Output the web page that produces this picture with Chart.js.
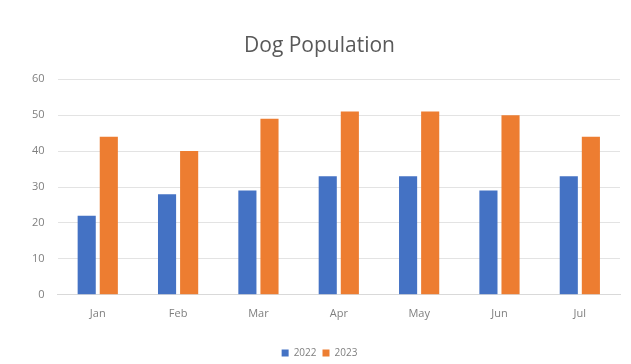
<!DOCTYPE html>
<html>
<head>
<meta charset="utf-8">
<script src="https://cdn.jsdelivr.net/npm/chart.js@4"></script>
<style>
  html, body { margin: 0; padding: 0; background: #fff; }
  #wrap { width: 631px; height: 364px; }
</style>
</head>
<body>
<div id="wrap"><canvas id="Chart" width="631" height="364"></canvas></div>
<script>
// Data
const months = ["Jan", "Feb", "Mar", "Apr", "May", "Jun", "Jul"];
const dogs2022 = [22, 28, 29, 33, 33, 29, 33];
const dogs2023 = [44, 40, 49, 51, 51, 50, 44];

const data = {
  labels: months,
  datasets: [
    {
      label: '2022',
      data: dogs2022,
      backgroundColor: '#4472C4',
      categoryPercentage: 0.55,
      barPercentage: 0.82
    },
    {
      label: '2023',
      data: dogs2023,
      backgroundColor: '#ED7D31',
      categoryPercentage: 0.55,
      barPercentage: 0.82
    }
  ]
};

const config = {
  type: 'bar',
  data: data,
  options: {
    responsive: false,
    animation: false,
    layout: { padding: { left: 19, right: 11, top: 33, bottom: -4 } },
    plugins: {
      title: {
        display: true,
        text: 'Dog Population',
        color: '#595959',
        font: { family: 'Open Sans', size: 21, weight: 'normal' },
        padding: { top: 0, bottom: 21 }
      },
      legend: {
        position: 'bottom',
        labels: {
          color: '#7f7f7f',
          font: { family: 'Open Sans', size: 10 },
          boxWidth: 7,
          boxHeight: 7,
          padding: 6
        }
      },
      tooltip: { enabled: false }
    },
    scales: {
      x: {
        grid: { display: false, drawTicks: false },
        border: { color: '#d9d9d9' },
        ticks: {
          color: '#7f7f7f',
          font: { family: 'Open Sans', size: 11 },
          padding: 12
        },
        afterFit: (scale) => { scale.height += 10; }
      },
      y: {
        min: 0,
        max: 60,
        ticks: {
          stepSize: 10,
          color: '#7f7f7f',
          font: { family: 'Open Sans', size: 11 },
          padding: 13
        },
        grid: { color: '#e3e3e3', drawTicks: false },
        border: { display: false }
      }
    }
  }
};

window.addEventListener('load', () => {
  const ctx = document.getElementById('Chart');
  new Chart(ctx, config);
});
</script>
</body>
</html>
